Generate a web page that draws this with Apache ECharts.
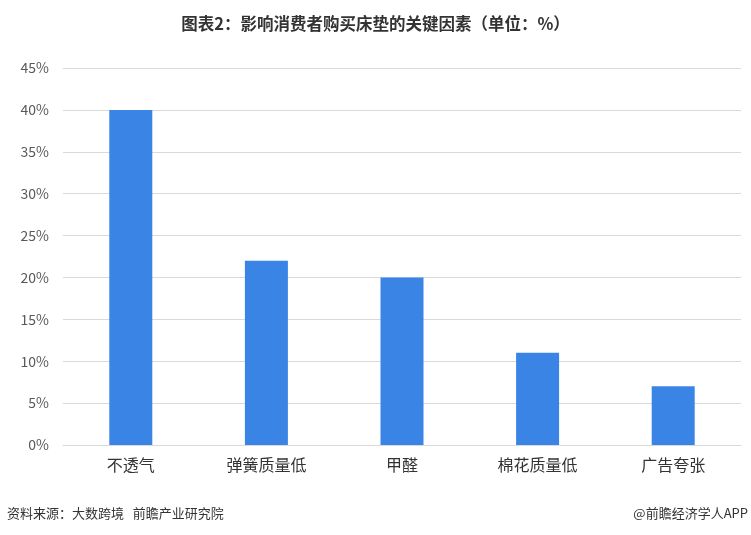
<!DOCTYPE html>
<html>
<head>
<meta charset="utf-8">
<script src="https://cdn.jsdelivr.net/npm/echarts@6/dist/echarts.min.js"></script>
<style>
html,body{margin:0;padding:0;background:#fff;}
#chart{width:751px;height:535px;}
</style>
</head>
<body>
<div id="chart"></div>
<script>
var categories = ['不透气', '弹簧质量低', '甲醛', '棉花质量低', '广告夸张'];
var values = [40, 22, 20, 11, 7];
var yTicks = [0, 5, 10, 15, 20, 25, 30, 35, 40, 45];

var chart = echarts.init(document.getElementById('chart'), null, {renderer: 'canvas'});
var font = '"Microsoft YaHei", "Noto Sans CJK SC", sans-serif';
chart.setOption({
  animation: false,
  backgroundColor: '#ffffff',
  title: {
    text: '图表2：影响消费者购买床垫的关键因素（单位：%）',
    left: 'center',
    top: 10,
    textStyle: {fontSize: 16.5, fontWeight: 'bold', color: '#333333', fontFamily: font}
  },
  grid: {left: 63, right: 10, top: 68, bottom: 90, containLabel: false},
  xAxis: {
    type: 'category',
    data: categories,
    axisTick: {show: false},
    axisLine: {lineStyle: {color: '#d9d9d9', width: 1}},
    axisLabel: {fontSize: 16, color: '#333333', margin: 12, fontFamily: font}
  },
  yAxis: {
    type: 'value',
    min: yTicks[0],
    max: yTicks[yTicks.length - 1],
    interval: 5,
    axisLine: {show: false},
    axisTick: {show: false},
    splitLine: {lineStyle: {color: '#d9d9d9', width: 1}},
    axisLabel: {formatter: '{value}%', fontSize: 14, color: '#595959', margin: 14, fontFamily: font}
  },
  series: [{
    type: 'bar',
    data: values,
    barWidth: 43,
    itemStyle: {color: '#3a84e6'}
  }],
  graphic: [
    {type: 'text', left: 7, top: 507, style: {text: '资料来源：大数跨境   前瞻产业研究院', fontSize: 13, fill: '#333333', fontFamily: font}},
    {type: 'text', right: 3, top: 507, style: {text: '@前瞻经济学人APP', fontSize: 13, fill: '#333333', fontFamily: font}}
  ]
});
</script>
</body>
</html>
